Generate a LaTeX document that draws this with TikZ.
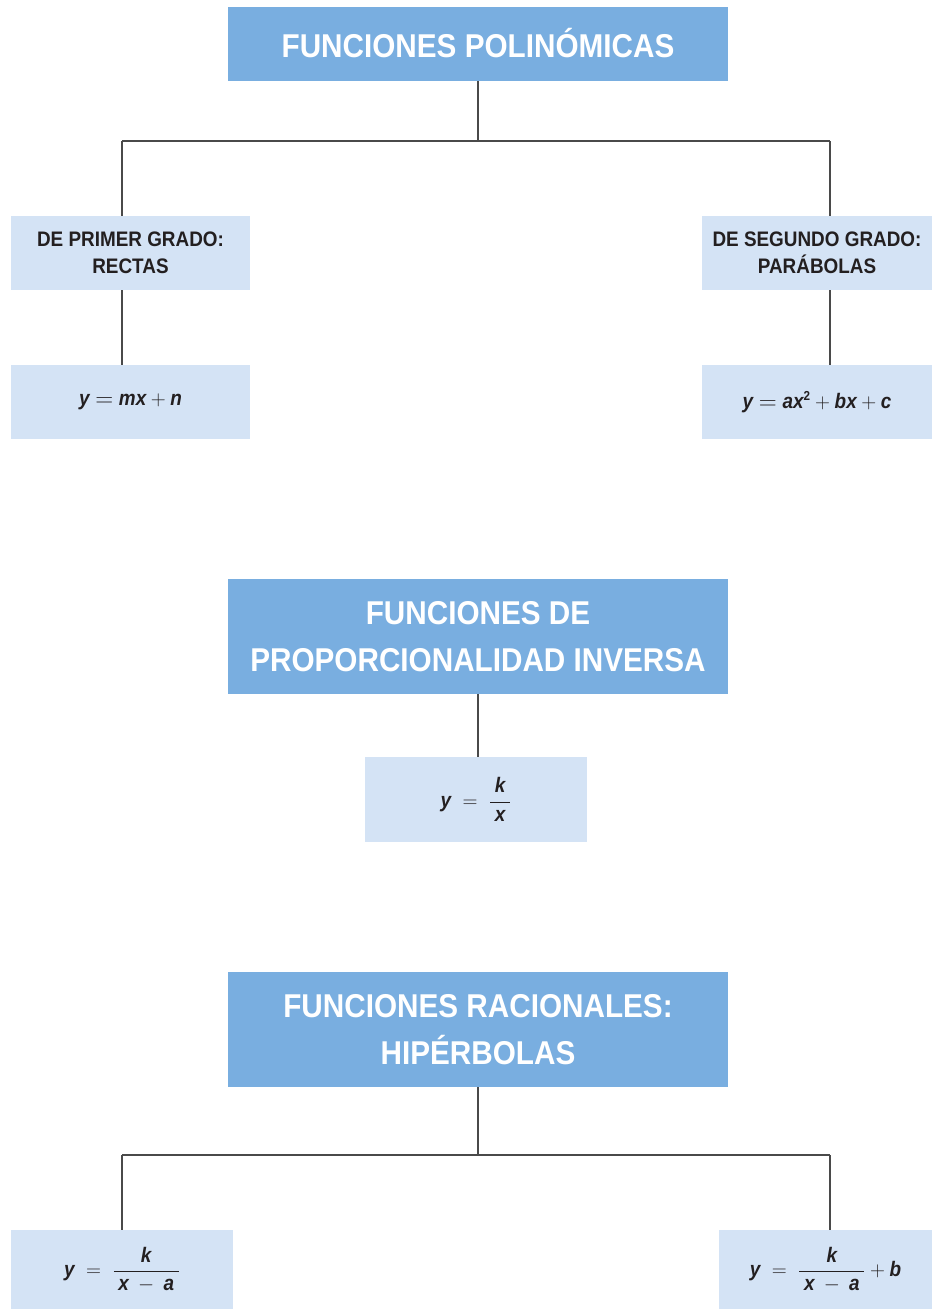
\documentclass[tikz,border=0pt]{standalone}
\usepackage{fontspec}
\setmainfont{Liberation Sans}[FakeStretch=0.9]
\definecolor{dark}{HTML}{79AEE0}
\definecolor{light}{HTML}{D4E3F5}
\definecolor{linec}{HTML}{4A4A4A}
\definecolor{txt}{HTML}{231F20}
\newcommand{\vv}[1]{\mbox{\bfseries\itshape #1}}
\newcommand{\meq}{\mathrel{\raisebox{-0.05em}{\scalebox{1.2}{$=$}}}}
\newcommand{\pad}{\hspace{0.22em}}
\tikzset{
  titlebox/.style={fill=dark, text=white, inner sep=0pt, align=center,
    font=\fontsize{33}{47}\selectfont\bfseries},
  subbox/.style={fill=light, text=txt, inner sep=0pt, align=center,
    font=\fontsize{21}{27}\selectfont\bfseries},
  formbox/.style={fill=light, text=txt, inner sep=0pt, align=center,
    font=\fontsize{21}{24}\selectfont},
  conn/.style={draw=linec, line width=1.4pt}
}
\begin{document}
\begin{tikzpicture}[x=1pt,y=-1pt]
\useasboundingbox[fill=white] (0,0) rectangle (932,1309);
% top
\node[titlebox, minimum width=500pt, minimum height=74pt] (t1) at (478,44) {\raisebox{2pt}{FUNCIONES POLIN\'OMICAS}};
\node[subbox, minimum width=239pt, minimum height=74pt] (s1) at (130.5,253) {DE PRIMER GRADO:\\RECTAS};
\node[subbox, minimum width=230pt, minimum height=74pt] (s2) at (817,253) {DE SEGUNDO GRADO:\\PAR\'ABOLAS};
\node[formbox, minimum width=239pt, minimum height=74pt] (f1) at (130.5,402) {\raisebox{-4pt}{$\vv{y} \meq \vv{mx} + \vv{n}$}};
\node[formbox, minimum width=230pt, minimum height=74pt] (f2) at (817,402) {\raisebox{-2pt}{$\vv{y} \meq \vv{ax}^{\mbox{\fontsize{13}{13}\selectfont\bfseries 2}} + \vv{bx} + \vv{c}$}};
\coordinate (j1) at (478,141);
\coordinate (j1l) at (122,141);
\coordinate (j1r) at (830,141);
\draw[conn] (t1.south) -- (j1);
\draw[conn] (j1l) -- (j1r);
\draw[conn] (j1l) -- (s1.north -| j1l);
\draw[conn] (j1r) -- (s2.north -| j1r);
\draw[conn] (s1.south -| j1l) -- (f1.north -| j1l);
\draw[conn] (s2.south -| j1r) -- (f2.north -| j1r);
% middle
\node[titlebox, minimum width=500pt, minimum height=115pt] (t2) at (478,636.5) {FUNCIONES DE\\PROPORCIONALIDAD INVERSA};
\node[formbox, minimum width=222pt, minimum height=85pt] (f3) at (476,799.5) {\raisebox{-2pt}{$\displaystyle \vv{y} \;=\; \frac{\vv{k}}{\pad\vv{x}\pad}$}};
\draw[conn] (t2.south) -- (f3.north -| t2.south);
% bottom
\node[titlebox, minimum width=500pt, minimum height=115pt] (t3) at (478,1029.5) {FUNCIONES RACIONALES:\\HIP\'ERBOLAS};
\node[formbox, minimum width=222pt, minimum height=79pt] (f4) at (122,1269.5) {\raisebox{-3pt}{$\displaystyle \vv{y} \;=\; \frac{\vv{k}}{\pad\vv{x} \:-\: \vv{a}\pad}$}};
\node[formbox, minimum width=213pt, minimum height=79pt] (f5) at (825.5,1269.5) {\raisebox{-3pt}{$\displaystyle \vv{y} \;=\; \frac{\vv{k}}{\pad\vv{x} \:-\: \vv{a}\pad} + \vv{b}$}};
\coordinate (j3) at (478,1155);
\coordinate (j3l) at (122,1155);
\coordinate (j3r) at (830,1155);
\draw[conn] (t3.south) -- (j3);
\draw[conn] (j3l) -- (j3r);
\draw[conn] (j3l) -- (f4.north -| j3l);
\draw[conn] (j3r) -- (f5.north -| j3r);
\end{tikzpicture}
\end{document}
